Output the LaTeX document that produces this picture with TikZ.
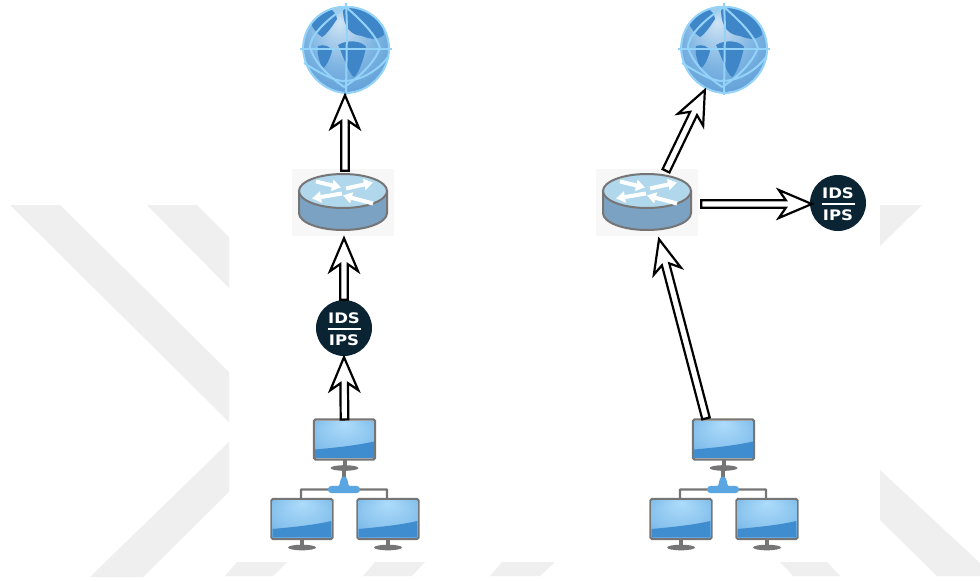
\documentclass[tikz,border=0pt]{standalone}
\usepackage{fontspec}
\setmainfont{DejaVu Sans}
\usetikzlibrary{calc,arrows.meta,shapes.geometric}
\definecolor{wm}{HTML}{EFEFEF}
\definecolor{idsbg}{HTML}{0A2433}
\definecolor{frameg}{HTML}{757575}
\definecolor{routertop}{HTML}{B0D7EB}
\definecolor{routerside}{HTML}{7BA2C3}
\definecolor{routerbg}{HTML}{F7F7F7}
\definecolor{land}{HTML}{3F86C8}
\definecolor{gridl}{HTML}{93D3FA}
\definecolor{band}{HTML}{3F8CCF}
\definecolor{swblue}{HTML}{5AA6E2}
\definecolor{scrA}{HTML}{AEDCFA}
\definecolor{scrB}{HTML}{87C2ED}
\definecolor{scrC}{HTML}{5C9ED9}
\definecolor{glbA}{HTML}{CFE4F4}
\definecolor{glbB}{HTML}{7DB4E2}
\definecolor{glbC}{HTML}{3C84C8}
\pgfdeclareradialshading{screenshade}{\pgfpoint{0bp}{22bp}}{color(0bp)=(scrA); color(26bp)=(scrB); color(50bp)=(scrC)}
\pgfdeclareradialshading{globeshade}{\pgfpoint{-4bp}{16bp}}{color(0bp)=(glbA); color(20bp)=(glbB); color(50bp)=(glbC)}
\tikzset{
  hollow/.style={to path={
    let \p1=(\tikztostart), \p2=(\tikztotarget),
        \n1={atan2(\y2-\y1,\x2-\x1)}, \n2={veclen(\x2-\x1,\y2-\y1)} in
    ([shift={(\p1)},rotate=\n1]0pt,3.8pt)
    -- ([shift={(\p1)},rotate=\n1]\n2-26pt,3.8pt)
    -- ([shift={(\p1)},rotate=\n1]\n2-33pt,14pt)
    -- ([shift={(\p1)},rotate=\n1]\n2,0pt)
    -- ([shift={(\p1)},rotate=\n1]\n2-33pt,-14pt)
    -- ([shift={(\p1)},rotate=\n1]\n2-26pt,-3.8pt)
    -- ([shift={(\p1)},rotate=\n1]0pt,-3.8pt) -- cycle}},
  link/.style={draw=black,fill=white,line width=2.2pt,miter limit=10},
  wmark/.style={fill=wm,draw=none},
  cable/.style={draw=frameg,line width=2.4pt},
  screenbox/.style={draw=frameg,line width=2.2pt,rounded corners=1.5pt,minimum width=61pt,minimum height=40pt,inner sep=0pt,fill=white},
  idstext/.style={text=white,font=\bfseries\fontsize{14.5}{15}\selectfont,inner sep=0pt,xscale=1.14,transform shape},
  rarrow/.style={white,line width=4pt,-{Triangle[length=9pt,width=11pt]}},
  monitor/.pic={
    \draw[frameg,line width=4pt] (0,40) -- (0,47);
    \fill[frameg] (0,48.5) ellipse (14pt and 2.8pt);
    \node[screenbox] (body) at (0,20) {};
    \begin{scope}
      \clip (-29.4,1.6) rectangle (29.4,38.4);
      \shade[shading=screenshade] (-29.4,1.6) rectangle (29.4,38.4);
      \fill[band] (-29.4,30) .. controls (-8,28) and (12,26) .. (29.4,22) -- (29.4,38.4) -- (-29.4,38.4) -- cycle;
    \end{scope}
  },
  routerpic/.pic={
    \node[fill=routerbg,minimum width=102pt,minimum height=67pt,inner sep=0pt] (body) at (0,0) {};
    \draw[frameg,line width=2pt,fill=routerside] (-44,-11.5) -- (-44,10.5) arc[start angle=180,end angle=360,x radius=44pt,y radius=17pt] -- (44,-11.5) -- cycle;
    \draw[frameg,line width=2pt,fill=routertop] (0,-11.5) ellipse (44pt and 17pt);
    \draw[rarrow] (-27,-21) -- (-2,-15);
    \draw[rarrow] (3,-14) -- (30,-20);
    \draw[rarrow] (-1,-9) -- (-31,-4);
    \draw[rarrow] (30,1) -- (0,-7);
  },
  globepic/.pic={
    \node[circle,minimum size=90pt,inner sep=0pt] (body) at (0,0) {};
    \shade[shading=globeshade] (0,0) circle (43pt);
    \begin{scope}
      \clip (0,0) circle (43pt);
      \fill[land] (-36,-39) .. controls (-20,-44) and (-10,-40) .. (-9,-30) .. controls (-14,-22) and (-20,-14) .. (-24,-12) .. controls (-30,-16) and (-38,-24) .. (-36,-39) -- cycle;
      \fill[land] (-3,-40) .. controls (15,-44) and (36,-38) .. (38,-14) .. controls (30,-8) and (24,-10) .. (16,-13) .. controls (6,-14) and (-3,-20) .. (-3,-40) -- cycle;
      \fill[land] (-8,-4) .. controls (2,-10) and (16,-8) .. (20,-2) .. controls (18,10) and (12,26) .. (8,28) .. controls (2,24) and (-2,8) .. (-8,-4) -- cycle;
      \fill[land] (-28,-3) .. controls (-22,-5) and (-16,-3) .. (-14,2) .. controls (-16,10) and (-20,18) .. (-24,20) .. controls (-26,12) and (-30,4) .. (-28,-3) -- cycle;
    \end{scope}
    \begin{scope}[gridl,line width=2pt]
      \draw (-43,-1) .. controls (-42,-28) and (-20,-44) .. (2,-42) .. controls (22,-42) and (43,-26) .. (43,0) .. controls (43,24) and (22,44) .. (0,44) .. controls (-22,43) and (-42,24) .. (-43,-1) -- cycle;
      \draw (-46,0) -- (46,0);
      \draw (0,-46) -- (1,-22) -- (0,46);
      \draw (0,-42) .. controls (-22,-28) and (-36,-12) .. (-36,-2) .. controls (-32,14) and (-16,28) .. (-2,38);
      \draw (0,-42) .. controls (16,-28) and (30,-14) .. (34,-1) .. controls (28,14) and (14,28) .. (-2,38);
      \draw (-42,14) .. controls (-26,24) and (-12,32) .. (-2,32) .. controls (12,32) and (30,24) .. (42,8);
    \end{scope}
  },
  idspic/.pic={
    \node[circle,fill=idsbg,minimum size=56pt,inner sep=0pt] (body) at (0,0) {};
    \node[idstext] (top) at (0,-9.5) {IDS};
    \node[idstext] (bot) at (0,12) {IPS};
    \draw[white,line width=2pt] (-16.5,1) -- (16.5,1);
  },
  switchpic/.pic={
    \draw[frameg,line width=4pt] (0,-20) -- (0,-10);
    \draw[cable,rounded corners=0.5pt] (-43,9) -- (-43,0) -- (43,0) -- (43,9);
    \fill[swblue,rounded corners=3.4pt] (-16,-3.6) rectangle (16,3.6);
    \fill[swblue] (-6,-3) .. controls (-3,-4) and (-5,-13) .. (0,-13) .. controls (5,-13) and (3,-4) .. (6,-3) -- cycle;
  },
}
\begin{document}
\begin{tikzpicture}[x=1pt,y=-1pt]
\useasboundingbox (0,0) rectangle (980,581);
\fill[white] (0,0) rectangle (980,581);
% watermark
\path[wmark] (10,205) -- (60,205) -- (229,372) -- (229,422) -- cycle;
\path[wmark] (147,205) -- (197,205) -- (229,237) -- (229,288) -- cycle;
\path[wmark] (229,442) -- (229,492) -- (143,577) -- (90,577) -- cycle;
\path[wmark] (225,576) -- (237,562) -- (287,562) -- (273,576) -- cycle;
\path[wmark] (363,576) -- (375,562) -- (425,562) -- (412,576) -- cycle;
\path[wmark] (490,576) -- (502,562) -- (555,562) -- (540,576) -- cycle;
\path[wmark] (780,562) -- (827,562) -- (840,576) -- (793,576) -- cycle;
\path[wmark] (880,205) -- (922,205) -- (880,246) -- cycle;
\path[wmark] (880,470) -- (980,563) -- (980,576) -- (937,576) -- (880,520) -- cycle;
% left column
\pic (gA) at (346,49) {globepic};
\pic (rA) at (343,202.5) {routerpic};
\pic (iA) at (344,328) {idspic};
\pic (sA) at (344,489.5) {switchpic};
\pic (pA) at (344.5,419.5) {monitor};
\pic (lA) at (302,499) {monitor};
\pic (mA) at (388,499) {monitor};
% right column
\pic (gB) at (724,49) {globepic};
\pic (rB) at (647,202.5) {routerpic};
\pic (iB) at (838,203) {idspic};
\pic (sB) at (723,489.5) {switchpic};
\pic (pB) at (723.5,419.5) {monitor};
\pic (lB) at (681,499) {monitor};
\pic (mB) at (767,499) {monitor};
% connectors
\draw[link] ($(rAbody.north)+(2,2)$) to[hollow] ($(gAbody.south)+(-1,1)$);
\draw[link] ($(iAbody.north)+(0,0)$) to[hollow] ($(rAbody.south)+(1,2)$);
\draw[link] ($(pAbody.north)+(0,1)$) to[hollow] ($(iAbody.south)+(0,1)$);
\draw[link] ($(rBbody.north)+(19,2)$) to[hollow] (gBbody.245);
\draw[link] ($(rBbody.east)+(3,1.5)$) to[hollow] ($(iBbody.west)+(2,1)$);
\draw[link] ($(pBbody.north)+(-17.5,0)$) to[hollow] ($(rBbody.south)+(12,3)$);
\end{tikzpicture}
\end{document}
